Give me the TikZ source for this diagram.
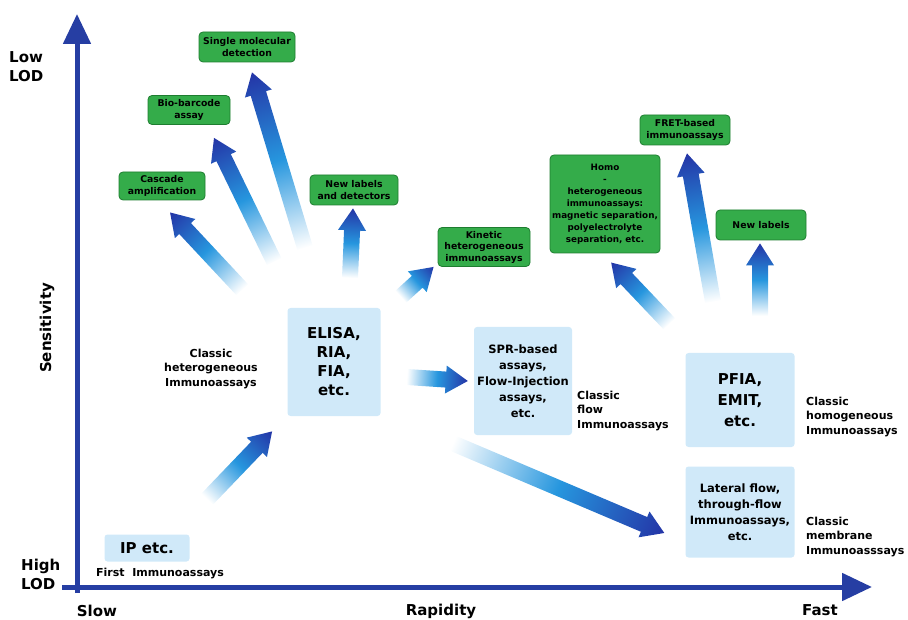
\documentclass[tikz,border=0pt]{standalone}
\usepackage{fontspec}
\setmainfont{DejaVu Sans}
\usetikzlibrary{calc,arrows.meta}
\definecolor{axisblue}{RGB}{38,62,163}
\definecolor{boxgreen}{RGB}{52,172,74}
\definecolor{edgegreen}{RGB}{30,125,48}
\definecolor{paleblue}{RGB}{208,233,249}
\definecolor{arrowmid}{RGB}{38,150,222}
\definecolor{arrowdark}{RGB}{36,52,166}
\def\fatarrow#1#2{%
	\path let \p1=(#1), \p2=(#2) in \pgfextra{%
		\pgfmathsetmacro\fang{atan2((\y2)-(\y1),(\x2)-(\x1))}%
		\pgfmathsetmacro\flen{veclen((\x2)-(\x1),(\y2)-(\y1))}%
		\xdef\fang{\fang}\xdef\flen{\flen}\xdef\fx{\x1}\xdef\fy{\y1}};
	\begin{scope}[transform canvas={shift={(\fx,\fy)},rotate=\fang}]
		\shade[left color=white, right color=arrowdark, middle color=arrowmid]
			(0pt,-8pt) -- (\flen pt-22pt,-8pt) -- (\flen pt-22pt,-14pt) -- (\flen pt,0pt)
			-- (\flen pt-22pt,14pt) -- (\flen pt-22pt,8pt) -- (0pt,8pt) -- cycle;
	\end{scope}}

\begin{document}
\begin{tikzpicture}[x=1pt,y=-1pt,
		greenbox/.style={draw=edgegreen, fill=boxgreen, rounded corners=4pt, line width=0.8pt, align=center, inner sep=2pt, font=\fontsize{9.3}{11.5}\selectfont\bfseries},
		bluebox/.style={fill=paleblue, rounded corners=3pt, align=center, inner sep=2pt},
		bigtext/.style={font=\fontsize{15}{19}\selectfont\bfseries},
		midtext/.style={font=\fontsize{11.5}{16}\selectfont\bfseries},
		sidetext/.style={font=\fontsize{11}{14.5}\selectfont\bfseries, inner sep=0pt},
		axlabel/.style={font=\fontsize{15}{19}\selectfont\bfseries, inner sep=0pt},
		axis/.style={axisblue, line width=5pt, -{Triangle[length=30pt,width=27pt]}}]
			%%%%% FRAME %%%%%
			\useasboundingbox (0,0) rectangle (908,620);
			
			%%%%% AXES %%%%%
			\coordinate (ybot) at (77,593);
			\coordinate (ytop) at (77,14);
			\coordinate (xleft) at (62,587);
			\coordinate (xright) at (872,587);
			\draw[axis] (ybot) -- (ytop);
			\draw[axis] (xleft) -- (xright);
			
			\node[axlabel, align=left, anchor=west] (lowlod) at (9,67) {Low\\LOD};
			\node[axlabel, align=left, anchor=west] (highlod) at (21,574) {High\\LOD};
			\node[axlabel] (slow) at (97,611) {Slow};
			\node[axlabel] (rapid) at (441,611) {Rapidity};
			\node[axlabel] (fast) at (820,610) {Fast};
			\node[axlabel, rotate=90] (sens) at (47,328) {Sensitivity};
			
			%%%%% GREEN BOXES %%%%%
			\node[greenbox, minimum width=96pt, minimum height=30pt] (single) at (247,47) {Single molecular\\detection};
			\node[greenbox, minimum width=82pt, minimum height=29pt] (bio) at (189,110) {Bio-barcode\\assay};
			\node[greenbox, minimum width=86pt, minimum height=28pt] (casc) at (162,186) {Cascade\\amplification};
			\node[greenbox, minimum width=88pt, minimum height=30pt] (newlab) at (354,190) {New labels\\and detectors};
			\node[greenbox, minimum width=92pt, minimum height=39pt] (kinetic) at (484,247) {Kinetic\\heterogeneous\\immunoassays};
			\node[greenbox, minimum width=110pt, minimum height=98pt, font=\fontsize{8.8}{12}\selectfont\bfseries] (homo) at (605,204) {Homo\\-\\heterogeneous\\immunoassays:\\magnetic separation,\\polyelectrolyte\\separation, etc.};
			\node[greenbox, minimum width=90pt, minimum height=30pt] (fret) at (685,130) {FRET-based\\immunoassays};
			\node[greenbox, minimum width=90pt, minimum height=30pt] (newlabels) at (761,225) {New labels};
			
			%%%%% BLUE BOXES %%%%%
			\node[bluebox, bigtext, minimum width=93pt, minimum height=108pt] (elisa) at (334,362) {ELISA,\\RIA,\\FIA,\\etc.};
			\node[bluebox, midtext, minimum width=98pt, minimum height=108pt] (spr) at (523,381) {SPR-based\\assays,\\Flow-Injection\\assays,\\etc.};
			\node[bluebox, bigtext, font=\fontsize{15}{21}\selectfont\bfseries, minimum width=109pt, minimum height=94pt] (pfia) at (740,400) {PFIA,\\EMIT,\\etc.};
			\node[bluebox, midtext, minimum width=109pt, minimum height=91pt] (lateral) at (740,512) {Lateral flow,\\through-flow\\Immunoassays,\\etc.};
			\node[bluebox, bigtext, minimum width=85pt, minimum height=27pt] (ip) at (147,548) {IP etc.};
			
			%%%%% SIDE TEXTS %%%%%
			\node[sidetext, align=center] (clhet) at (211,369) {Classic\\heterogeneous\\Immunoassays};
			\node[sidetext, align=left, anchor=west] (clflow) at (577,411) {Classic\\flow\\Immunoassays};
			\node[sidetext, align=left, anchor=west] (clhom) at (806,417) {Classic\\homogeneous\\Immunoassays};
			\node[sidetext, align=left, anchor=west] (clmem) at (806,537) {Classic\\membrane\\Immunoasssays};
			\node[sidetext] (first) at (160,574) {First\ \ Immunoassays};
			
			%%%%% ARROWS %%%%%
			\fatarrow{[shift={(-45,-18)}]elisa.north west}{[shift={(8,12)}]casc.south}
			\fatarrow{[shift={(-13,-46)}]elisa.north west}{[shift={(25,13)}]bio.south}
			\fatarrow{[shift={(-29,-60)}]elisa.north}{[shift={(5,10)}]single.south}
			\fatarrow{[shift={(16,-30)}]elisa.north}{[shift={(-1,3)}]newlab.south}
			\fatarrow{[shift={(20,-11)}]elisa.north east}{[shift={(-4,0)}]kinetic.south west}
			\fatarrow{[shift={(26,15)}]elisa.east}{[shift={(-6,0)}]spr.west}
			\fatarrow{[shift={(72,27)}]elisa.south east}{[shift={(-21,21)}]lateral.west}
			\fatarrow{[shift={(60,-35)}]ip.north}{[shift={(-15,15)}]elisa.south west}
			\fatarrow{[shift={(-16,-29)}]pfia.north west}{[shift={(6,9)}]homo.south}
			\fatarrow{[shift={(-27,-51)}]pfia.north}{[shift={(2,8)}]fret.south}
			\fatarrow{[shift={(20,-37)}]pfia.north}{[shift={(-1,3)}]newlabels.south}
			
\end{tikzpicture}
\end{document}
